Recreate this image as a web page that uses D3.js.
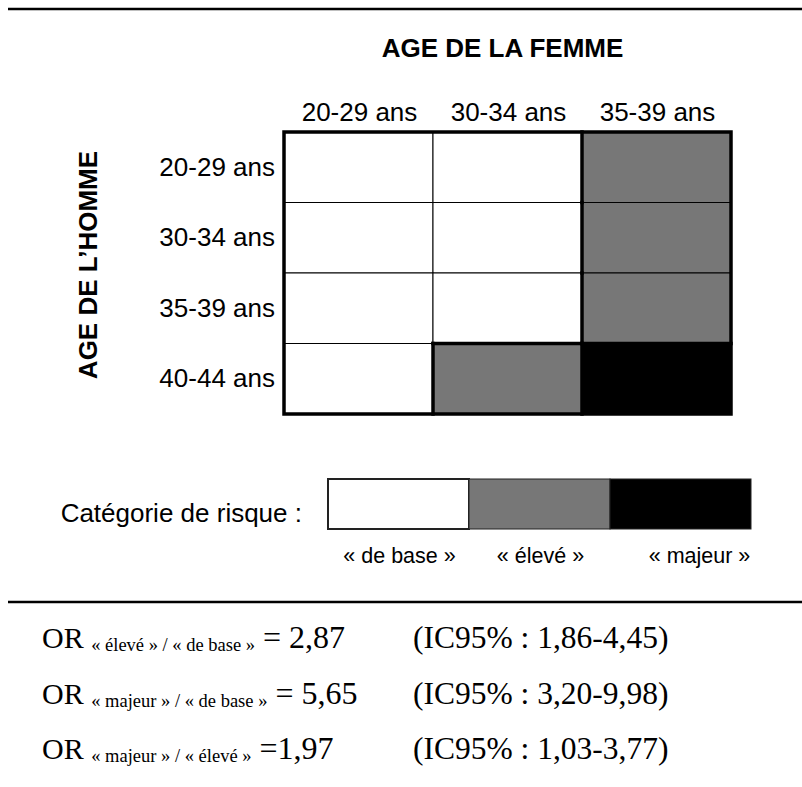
<!DOCTYPE html>
<html>
<head>
<meta charset="utf-8">
<script src="https://cdn.jsdelivr.net/npm/d3@7"></script>
<style>
  html, body { margin: 0; padding: 0; background: #fff; }
  svg { display: block; }
</style>
</head>
<body>
<svg id="chart" width="802" height="787"></svg>
<script>
// ---------- DATA ----------
const chartTitle = "AGE DE LA FEMME";
const rowTitle = "AGE DE L\u2019HOMME";
const womenAges = ["20-29 ans", "30-34 ans", "35-39 ans"];
const menAges = ["20-29 ans", "30-34 ans", "35-39 ans", "40-44 ans"];
const riskCategories = ["« de base »", "« élevé »", "« majeur »"];
// risk category index for each man age (rows) x woman age (columns)
const riskMen2029 = [0, 0, 1];
const riskMen3034 = [0, 0, 1];
const riskMen3539 = [0, 0, 1];
const riskMen4044 = [0, 1, 2];
const legendTitle = "Catégorie de risque :";
const orNumerators = ["« élevé »", "« majeur »", "« majeur »"];
const orDenominators = ["« de base »", "« de base »", "« élevé »"];
const orEquals = [" = ", " = ", " ="];
const orValues = ["2,87", "5,65", "1,97"];
const ciLow = ["1,86", "3,20", "1,03"];
const ciHigh = ["4,45", "9,98", "3,77"];

// ---------- STYLE ----------
const riskColors = ["#ffffff", "#777777", "#000000"];
const sans = "Arial, 'Liberation Sans', sans-serif";
const serif = "'Times New Roman', 'Liberation Serif', serif";

const riskRows = [riskMen2029, riskMen3034, riskMen3539, riskMen4044];
const cells = [];
riskRows.forEach((row, r) => row.forEach((cat, c) => cells.push({ man: menAges[r], woman: womenAges[c], r, c, cat })));

const svg = d3.select("#chart");

// rules
svg.append("line").attr("x1", 8).attr("x2", 802).attr("y1", 9).attr("y2", 9)
  .attr("stroke", "#000").attr("stroke-width", 2.5);
svg.append("line").attr("x1", 8).attr("x2", 802).attr("y1", 602).attr("y2", 602)
  .attr("stroke", "#000").attr("stroke-width", 2.5);

// scales
const x = d3.scaleBand().domain(womenAges).range([284, 731]);
const y = d3.scaleBand().domain(menAges).range([132, 414]);

// title
svg.append("text").attr("x", (x.range()[0] + x.range()[1]) / 2 - 5).attr("y", 57)
  .attr("text-anchor", "middle").attr("font-family", sans).attr("font-weight", "bold")
  .attr("font-size", 26).text(chartTitle);

// column labels
svg.append("g").selectAll("text").data(womenAges).join("text")
  .attr("x", d => x(d) + x.bandwidth() / 2 + 1).attr("y", 121)
  .attr("text-anchor", "middle").attr("font-family", sans).attr("font-size", 26)
  .text(d => d);

// row labels
svg.append("g").selectAll("text").data(menAges).join("text")
  .attr("x", 275).attr("y", d => y(d) + y.bandwidth() / 2 + 8.5)
  .attr("text-anchor", "end").attr("font-family", sans).attr("font-size", 26)
  .text(d => d);

// row title
svg.append("text").attr("transform", `translate(97,${(y.range()[0] + y.range()[1]) / 2 - 8}) rotate(-90)`)
  .attr("text-anchor", "middle").attr("font-family", sans).attr("font-weight", "bold")
  .attr("font-size", 26).text(rowTitle);

// cells
svg.append("g").selectAll("rect").data(cells).join("rect")
  .attr("x", d => x(d.woman)).attr("y", d => y(d.man))
  .attr("width", x.bandwidth()).attr("height", y.bandwidth())
  .attr("fill", d => riskColors[d.cat])
  .attr("stroke", "#000").attr("stroke-width", 1);

// thick borders between risk categories
const thick = svg.append("g").attr("stroke", "#000").attr("stroke-width", 3.5).attr("stroke-linecap", "square");
cells.forEach(d => {
  const x0 = x(d.woman), x1 = x0 + x.bandwidth(), y0 = y(d.man), y1 = y0 + y.bandwidth();
  const right = riskRows[d.r][d.c + 1];
  const below = d.r + 1 < riskRows.length ? riskRows[d.r + 1][d.c] : undefined;
  if (right !== undefined && right !== d.cat) thick.append("line").attr("x1", x1).attr("x2", x1).attr("y1", y0).attr("y2", y1);
  if (below !== undefined && below !== d.cat) thick.append("line").attr("x1", x0).attr("x2", x1).attr("y1", y1).attr("y2", y1);
});
thick.append("rect").attr("x", x.range()[0]).attr("y", y.range()[0])
  .attr("width", x.range()[1] - x.range()[0]).attr("height", y.range()[1] - y.range()[0])
  .attr("fill", "none");

// legend
const lx = d3.scaleBand().domain(riskCategories).range([328, 751]);
svg.append("text").attr("x", 302).attr("y", 513 + 9).attr("text-anchor", "end")
  .attr("font-family", sans).attr("font-size", 26).text(legendTitle);
svg.append("g").selectAll("rect").data(riskCategories).join("rect")
  .attr("x", d => lx(d)).attr("y", 479).attr("width", lx.bandwidth()).attr("height", 50)
  .attr("fill", (d, i) => riskColors[i]).attr("stroke", "#222").attr("stroke-width", (d, i) => i === 0 ? 2 : 1);
svg.append("g").selectAll("text").data(riskCategories).join("text")
  .attr("x", (d, i) => lx(d) + lx.bandwidth() / 2 + (i === riskCategories.length - 1 ? 19 : 1))
  .attr("y", 563)
  .attr("text-anchor", "middle").attr("font-family", sans).attr("font-size", 21.5)
  .text(d => d);

// odds ratios
const orY = d3.scalePoint().domain(d3.range(orValues.length)).range([648, 759]);
const orRows = svg.append("g").selectAll("g").data(orValues).join("g");
orRows.each(function (v, i) {
  const g = d3.select(this);
  const t = g.append("text").attr("x", 42).attr("y", orY(i)).attr("font-family", serif).attr("font-size", 30);
  t.append("tspan").text("OR ");
  t.append("tspan").attr("font-size", 18.5).attr("dy", 3).text(orNumerators[i] + " / " + orDenominators[i]);
  t.append("tspan").attr("dy", -3).attr("font-size", 32).text(orEquals[i] + v);
  g.append("text").attr("x", 413).attr("y", orY(i)).attr("font-family", serif).attr("font-size", 31.5)
    .text(`(IC95% : ${ciLow[i]}-${ciHigh[i]})`);
});
</script>
</body>
</html>
